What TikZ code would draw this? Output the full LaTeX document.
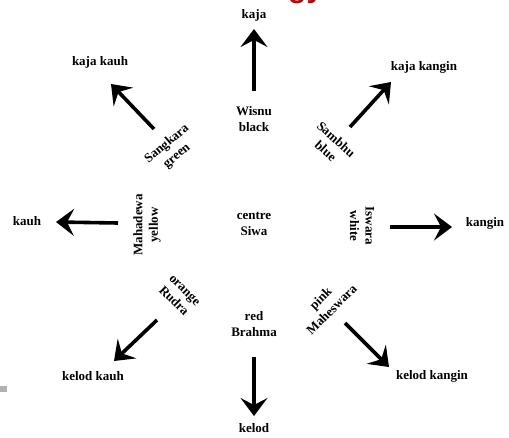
\documentclass[tikz,border=0pt]{standalone}
\usepackage{fontspec}
\setmainfont{Liberation Serif}
\setsansfont{Liberation Sans}
\usetikzlibrary{arrows.meta}
\tikzset{
  lbl/.style={font=\bfseries\fontsize{13}{15.5}\selectfont, align=center, inner sep=0pt},
  arr/.style={line width=3.6pt, -{Stealth[length=18pt,width=27pt,inset=7pt]}},
}
\begin{document}
\begin{tikzpicture}[x=1pt,y=-1pt]
\useasboundingbox (0,0) rectangle (509,437);
% cropped title fragment
\begin{scope}
\clip (270,0) rectangle (340,3.2);
\node[anchor=base west, inner sep=0pt, text=red!80!black, font=\sffamily\bfseries\fontsize{30}{30}\selectfont] (ttl) at (288,-3) {gy};
\end{scope}
\fill[gray!60] (0,386) rectangle (7,392);
% labels
\node[lbl] (kaja) at (254,15) {kaja};
\node[lbl] (kajakauh) at (100,62) {kaja kauh};
\node[lbl] (kajakangin) at (424,67) {kaja kangin};
\node[lbl] (kauh) at (27,221) {kauh};
\node[lbl] (kangin) at (485,223) {kangin};
\node[lbl] (kelodkauh) at (93,376) {kelod kauh};
\node[lbl] (kelod) at (254,428) {kelod};
\node[lbl] (kelodkangin) at (432,376) {kelod kangin};
% gods
\node[lbl] (wisnu) at (254,119) {Wisnu\\black};
\node[lbl] (siwa) at (254,224) {centre\\Siwa};
\node[lbl] (brahma) at (254,324) {red\\Brahma};
\node[lbl, rotate=40] (sangkara) at (172,150) {Sangkara\\green};
\node[lbl, rotate=-42] (sambhu) at (331,145) {Sambhu\\blue};
\node[lbl, rotate=90] (mahadewa) at (147,225) {Mahadewa\\yellow};
\node[lbl, rotate=-90] (iswara) at (362,226) {Iswara\\white};
\node[lbl, rotate=-45] (rudra) at (179,296) {orange\\Rudra};
\node[lbl, rotate=45] (maheswara) at (326,304) {pink\\Maheswara};
% arrow end points
\coordinate (nS) at (254,91);   \coordinate (nE) at (254,29);
\coordinate (nwS) at (154,129); \coordinate (nwE) at (111,84);
\coordinate (neS) at (350,127); \coordinate (neE) at (391,82);
\coordinate (wS) at (118,223);  \coordinate (wE) at (56,222);
\coordinate (eS) at (390,227);  \coordinate (eE) at (452,227);
\coordinate (swS) at (157,320); \coordinate (swE) at (114,361);
\coordinate (seS) at (345,323); \coordinate (seE) at (389,367);
\coordinate (sS) at (254,357);  \coordinate (sE) at (254,416);
\draw[arr] (nS) -- (nE);
\draw[arr] (nwS) -- (nwE);
\draw[arr] (neS) -- (neE);
\draw[arr] (wS) -- (wE);
\draw[arr] (eS) -- (eE);
\draw[arr] (swS) -- (swE);
\draw[arr] (seS) -- (seE);
\draw[arr] (sS) -- (sE);
\end{tikzpicture}
\end{document}
